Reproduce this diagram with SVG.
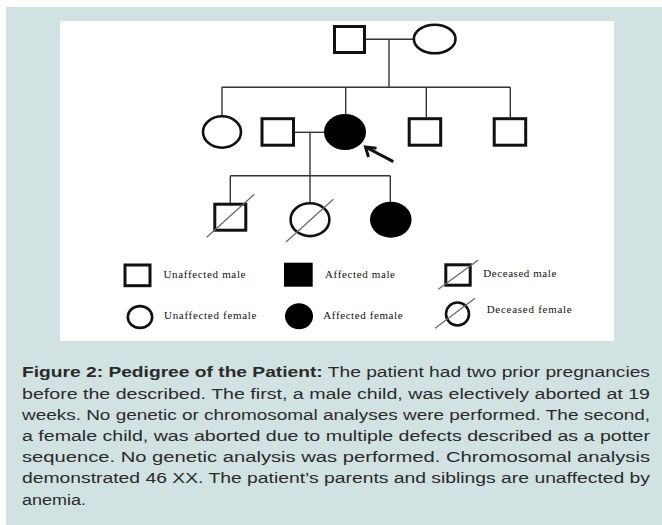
<svg xmlns="http://www.w3.org/2000/svg" width="662" height="525" viewBox="0 0 662 525">
<style>
.bg{fill:#d2e2e2}
.panel{fill:#fff}
.sh{fill:none;stroke:#111;stroke-width:3}
.shc{fill:none;stroke:#111;stroke-width:2.6}
.fill{fill:#000}
.ln{fill:none;stroke:#333;stroke-width:1.4}
.dg{fill:none;stroke:#666;stroke-width:1.2}
.lg{font-family:"Liberation Serif","Times New Roman",serif;font-size:11px;fill:#111}
.cap{font-family:"Liberation Sans",Arial,sans-serif;font-size:15.5px;fill:#2a2a2a}
.b{font-weight:bold}
</style>
<rect x="0" y="0" width="662" height="525" fill="#fff"/>
<rect class="bg" x="6" y="7" width="656" height="518"/>
<rect class="panel" x="60" y="21" width="554" height="320"/>

<g id="connectors">
<line class="ln" x1="365" y1="39.3" x2="413" y2="39.3"/>
<line class="ln" x1="389" y1="39.3" x2="389" y2="87.3"/>
<line class="ln" x1="221.7" y1="87.3" x2="510.3" y2="87.3"/>
<line class="ln" x1="222" y1="87.3" x2="222" y2="115"/>
<line class="ln" x1="345.7" y1="87.3" x2="345.7" y2="114"/>
<line class="ln" x1="426.3" y1="87.3" x2="426.3" y2="117.3"/>
<line class="ln" x1="510.3" y1="87.3" x2="510.3" y2="117.3"/>
<line class="ln" x1="295" y1="132.3" x2="324" y2="132.3"/>
<line class="ln" x1="310" y1="132.3" x2="310" y2="175.7"/>
<line class="ln" x1="230.3" y1="175.7" x2="390.3" y2="175.7"/>
<line class="ln" x1="230.3" y1="175.7" x2="230.3" y2="203"/>
<line class="ln" x1="310" y1="175.7" x2="310" y2="202"/>
<line class="ln" x1="390.3" y1="175.7" x2="390.3" y2="202"/>
</g>

<g id="father"><rect class="sh" x="334.5" y="26.5" width="30" height="26"/></g>
<g id="mother"><ellipse class="shc" cx="434.7" cy="39" rx="20.8" ry="14.3"/></g>

<g id="sister"><ellipse class="shc" cx="222" cy="132" rx="19" ry="15.7"/></g>
<g id="husband"><rect class="sh" x="262" y="118.7" width="31.5" height="26.5"/></g>
<g id="patient"><ellipse class="fill" cx="345" cy="132" rx="21" ry="18"/></g>
<g id="brother1"><rect class="sh" x="409.2" y="118.7" width="31.5" height="26.5"/></g>
<g id="brother2"><rect class="sh" x="494.2" y="118.7" width="31.5" height="26.5"/></g>

<g id="proband-arrow">
<line x1="393.3" y1="161.7" x2="366.5" y2="147.5" stroke="#111" stroke-width="3"/>
<polyline points="368.5,157 365.5,147 376.5,148.3" fill="none" stroke="#111" stroke-width="3"/>
</g>

<g id="child1"><rect class="sh" x="214.8" y="204.2" width="31" height="26"/><line class="dg" x1="206.7" y1="237.3" x2="254.3" y2="194.3"/></g>
<g id="child2"><ellipse class="shc" cx="310" cy="219.7" rx="19.4" ry="16.4"/><line class="dg" x1="286" y1="242" x2="333.3" y2="199.3"/></g>
<g id="child3"><ellipse class="fill" cx="390.8" cy="219.7" rx="20.8" ry="18"/></g>

<g id="legend">
<rect class="sh" x="125" y="265" width="25" height="20.7"/>
<text class="lg" x="163.5" y="278" textLength="82" lengthAdjust="spacing">Unaffected male</text>
<rect class="fill" x="284" y="262.7" width="28.7" height="24"/>
<text class="lg" x="325" y="278" textLength="70" lengthAdjust="spacing">Affected male</text>
<rect class="sh" x="445.8" y="264.8" width="24.4" height="20.4"/>
<line class="dg" x1="438.3" y1="289.3" x2="478.3" y2="260"/>
<text class="lg" x="483.3" y="276.7" textLength="73" lengthAdjust="spacing">Deceased male</text>
<ellipse class="shc" cx="140" cy="317" rx="12.2" ry="10.9"/>
<text class="lg" x="164" y="318.5" textLength="92.5" lengthAdjust="spacing">Unaffected female</text>
<ellipse class="fill" cx="299" cy="316.3" rx="14" ry="13"/>
<text class="lg" x="323.3" y="319.3" textLength="79.3" lengthAdjust="spacing">Affected female</text>
<ellipse class="shc" cx="457.5" cy="314" rx="11.5" ry="11.5"/>
<line class="dg" x1="435" y1="328.3" x2="475" y2="298.3"/>
<text class="lg" x="486.7" y="313.3" textLength="85" lengthAdjust="spacing">Deceased female</text>
</g>

<g id="caption">
<text class="cap" x="22" y="377.3" textLength="628" lengthAdjust="spacingAndGlyphs"><tspan class="b">Figure 2: Pedigree of the Patient:</tspan> The patient had two prior pregnancies</text>
<text class="cap" x="22" y="398.5" textLength="628" lengthAdjust="spacingAndGlyphs">before the described. The first, a male child, was electively aborted at 19</text>
<text class="cap" x="22" y="419.7" textLength="628" lengthAdjust="spacingAndGlyphs">weeks. No genetic or chromosomal analyses were performed. The second,</text>
<text class="cap" x="22" y="440.9" textLength="628" lengthAdjust="spacingAndGlyphs">a female child, was aborted due to multiple defects described as a potter</text>
<text class="cap" x="22" y="462.1" textLength="628" lengthAdjust="spacingAndGlyphs">sequence. No genetic analysis was performed. Chromosomal analysis</text>
<text class="cap" x="22" y="483.3" textLength="628" lengthAdjust="spacingAndGlyphs">demonstrated 46 XX. The patient’s parents and siblings are unaffected by</text>
<text class="cap" x="22" y="504.5" textLength="64" lengthAdjust="spacingAndGlyphs">anemia.</text>
</g>
</svg>
